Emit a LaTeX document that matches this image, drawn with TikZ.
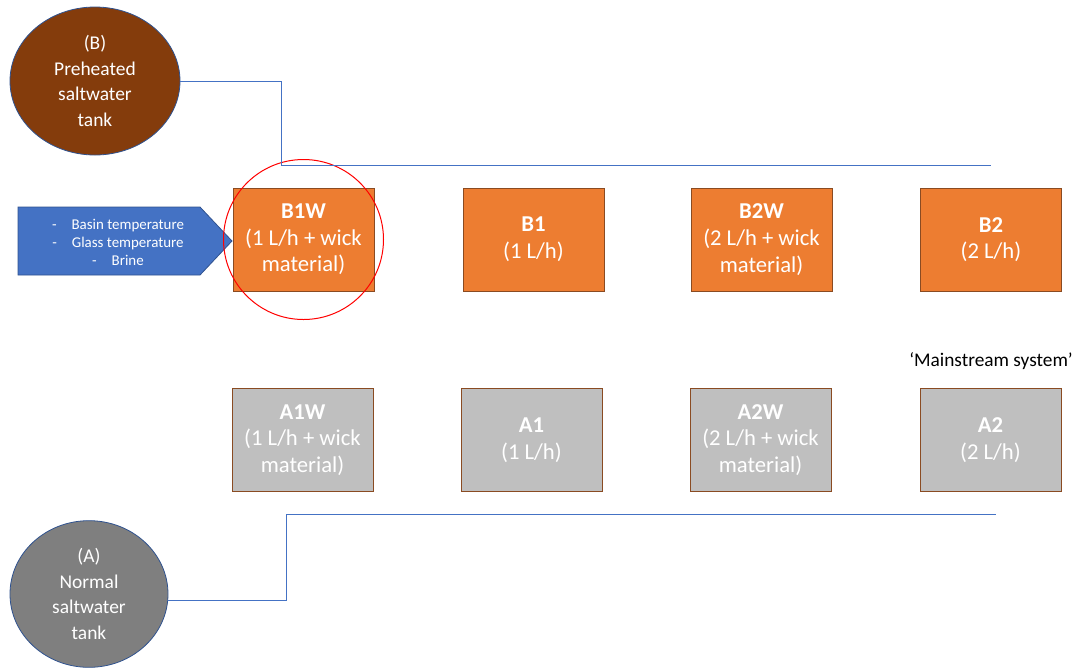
\documentclass[tikz,border=0pt]{standalone}
\usepackage{fontspec}
\setmainfont{Carlito}

\definecolor{boxorange}{HTML}{ED7D31}
\definecolor{boxgray}{HTML}{BFBFBF}
\definecolor{tankbrown}{HTML}{843C0C}
\definecolor{tankgray}{HTML}{7F7F7F}
\definecolor{pipeblue}{HTML}{4472C4}
\definecolor{edgeblue}{HTML}{2F528F}
\definecolor{boxedge}{HTML}{8A4B22}

\tikzset{
  unit/.style={draw=boxedge, line width=0.6pt, minimum width=105.75pt, minimum height=77.25pt,
    align=center, text=white, font=\fontsize{17}{20}\selectfont, inner sep=0pt},
  heated/.style={unit, fill=boxorange},
  normal/.style={unit, fill=boxgray},
  tank/.style={ellipse, draw=edgeblue, line width=0.6pt, align=center, text=white,
    font=\fontsize{14.6}{19.3}\selectfont, inner sep=0pt},
  pipe/.style={draw=pipeblue, line width=0.75pt}
}
\usetikzlibrary{shapes.geometric}

\begin{document}
\begin{tikzpicture}[x=0.75pt, y=-0.75pt]
            \useasboundingbox (0,0) rectangle (1075,669);

            % tanks
            \node[tank, fill=tankbrown, minimum width=127.5pt, minimum height=111pt] (tankB) at (95,81)
              {(B)\\Preheated\\saltwater\\tank};
            \node[tank, fill=tankgray, minimum width=118.5pt, minimum height=110pt] (tankA) at (89,594)
              {(A)\\Normal\\saltwater\\tank};

            % preheated row
            \node[heated] (B1W) at (303.5,239.5) {\textbf{B1W}\\(1 L/h + wick\\material)};
            \node[heated] (B1) at (533.5,239.5) {\textbf{B1}\\(1 L/h)};
            \node[heated] (B2W) at (761.5,239.5) {\textbf{B2W}\\(2 L/h + wick\\material)};
            \node[heated] (B2) at (991,239.5) {\textbf{B2}\\(2 L/h)};

            % normal row
            \node[normal] (A1W) at (302.5,440) {\textbf{A1W}\\(1 L/h + wick\\material)};
            \node[normal] (A1) at (531.5,440) {\textbf{A1}\\(1 L/h)};
            \node[normal] (A2W) at (760.5,440) {\textbf{A2W}\\(2 L/h + wick\\material)};
            \node[normal] (A2) at (990.5,440) {\textbf{A2}\\(2 L/h)};

            \node[font=\fontsize{14.5}{17}\selectfont] (mainstream) at (991,361) {‘Mainstream system’};

            % measured quantities
            \fill[pipeblue, draw=edgeblue, line width=0.6pt] (18,207) -- (200,207) -- (232,241) -- (200,275) -- (18,275) -- cycle;
            \node[align=center, text=white, font=\fontsize{11.2}{13.5}\selectfont] (sensors) at (118,242)
              {-\hspace{1em}Basin temperature\\-\hspace{1em}Glass temperature\\-\hspace{1em}Brine};

            \node[circle, draw=red, line width=0.75pt, minimum size=120pt] (focus) at (B1W) {};

            % supply lines
            \coordinate (bendB) at (281,165);
            \coordinate (endB) at (991,165);
            \coordinate (bendA) at (286,514);
            \coordinate (endA) at (996,514);
            \draw[pipe] (tankB.east) -| (bendB) -- (endB);
            \draw[pipe] (tankA.-5) -| (bendA) -- (endA);
        \end{tikzpicture}
\end{document}
